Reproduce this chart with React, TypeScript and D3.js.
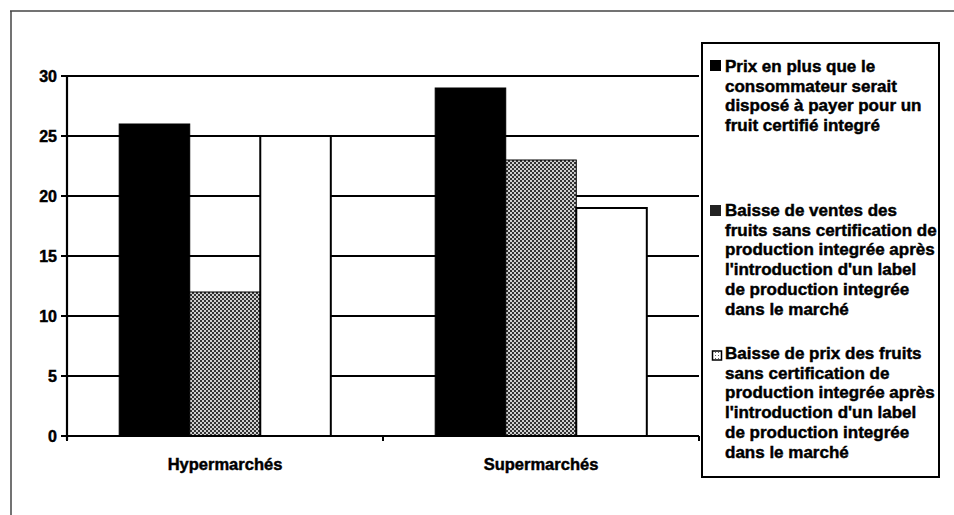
import React from "react";
import * as d3 from "d3";

// Catégories et séries
const categories = ["Hypermarchés", "Supermarchés"];
const seriesKeys = ["prix", "ventes", "baisse"];
const prixEnPlus = [26, 29];
const baisseVentes = [12, 23];
const baissePrix = [25, 19];
const yTicks = [0, 5, 10, 15, 20, 25, 30];

const legendLines = [
  ["Prix en plus que le", "consommateur serait", "disposé à payer pour un", "fruit certifié integré"],
  [
    "Baisse de ventes des",
    "fruits sans certification de",
    "production integrée après",
    "l'introduction d'un label",
    "de production integrée",
    "dans le marché",
  ],
  [
    "Baisse de prix des fruits",
    "sans certification de",
    "production integrée après",
    "l'introduction d'un label",
    "de production integrée",
    "dans le marché",
  ],
];

const font = "'Liberation Sans', Arial, Helvetica, sans-serif";
// le texte scanné est plus gras : léger contour
const heavy = { stroke: "#000", strokeWidth: 0.45 };

export default function App() {
  const width = 954, height = 515;
  const margin = { top: 76, left: 67, right: 255, bottom: 79 };
  const plotRight = width - margin.right;
  const plotBottom = height - margin.bottom;

  const y = d3.scaleLinear().domain([0, 30]).range([plotBottom, margin.top]);
  const x0 = d3.scaleBand<string>().domain(categories).range([margin.left, plotRight]).padding(0);
  const x1 = d3.scaleBand<string>().domain(seriesKeys).range([0, x0.bandwidth()]).paddingInner(0).paddingOuter(0.74);

  const values: Record<string, number[]> = { prix: prixEnPlus, ventes: baisseVentes, baisse: baissePrix };
  const fills: Record<string, string> = { prix: "#000", ventes: "url(#dither)", baisse: "#fff" };

  const bars = categories.flatMap((c, i) =>
    seriesKeys.map((k) => ({ cat: c, key: k, value: values[k][i] }))
  );

  const legendBaselines = [72, 216, 359];
  const lineH = 19.7;

  return (
    <svg width={width} height={height} style={{ position: "absolute", left: 0, top: 0, background: "#fff" }}>
      <defs>
        <pattern id="dither" width="4" height="4" patternUnits="userSpaceOnUse">
          <rect width="4" height="4" fill="#cfcfcf" />
          <rect width="2" height="2" fill="#333" />
          <rect x="2" y="2" width="2" height="2" fill="#333" />
        </pattern>
        <pattern id="dots" width="3" height="3" patternUnits="userSpaceOnUse">
          <rect width="3" height="3" fill="#fff" />
          <rect x="1" y="1" width="1" height="1" fill="#666" />
        </pattern>
      </defs>

      {/* cadre extérieur */}
      <line x1={10} x2={width} y1={11} y2={11} stroke="#444" strokeWidth={1.5} />
      <line x1={11} x2={11} y1={11} y2={height} stroke="#444" strokeWidth={1.5} />

      {/* grille */}
      {yTicks.filter((t) => t > 0).map((t) => (
        <line key={t} x1={margin.left} x2={plotRight} y1={y(t)} y2={y(t)} stroke="#000" strokeWidth={2.2} />
      ))}

      {/* barres */}
      {bars.map((b) => (
        <rect
          key={b.cat + b.key}
          x={x0(b.cat)! + x1(b.key)!}
          y={y(b.value)}
          width={x1.bandwidth()}
          height={plotBottom - y(b.value)}
          fill={fills[b.key]}
          stroke="#000"
          strokeWidth={b.key === "baisse" ? 2 : 1}
        />
      ))}

      {/* axe Y */}
      <line x1={margin.left} x2={margin.left} y1={margin.top} y2={plotBottom + 4} stroke="#000" strokeWidth={2.2} />
      {yTicks.map((t) => (
        <g key={t}>
          <line x1={margin.left - 6} x2={margin.left} y1={y(t)} y2={y(t)} stroke="#000" strokeWidth={2} />
          <text
            x={margin.left - 10}
            y={y(t)}
            dy="0.36em"
            textAnchor="end"
            fontFamily={font}
            fontWeight="bold"
            fontSize={16}
            {...heavy}
          >
            {t}
          </text>
        </g>
      ))}

      {/* axe X */}
      <line x1={margin.left} x2={plotRight} y1={plotBottom} y2={plotBottom} stroke="#000" strokeWidth={2.2} />
      {[...categories.map((c) => x0(c)!), plotRight].map((px, i) => (
        <line key={i} x1={px} x2={px} y1={plotBottom} y2={plotBottom + 5} stroke="#000" strokeWidth={2} />
      ))}
      {categories.map((c) => (
        <text
          key={c}
          x={x0(c)! + x0.bandwidth() / 2}
          y={470}
          textAnchor="middle"
          fontFamily={font}
          fontWeight="bold"
          fontSize={16.5}
          {...heavy}
        >
          {c}
        </text>
      ))}

      {/* légende */}
      <rect x={702} y={43} width={237} height={434} fill="none" stroke="#000" strokeWidth={2} />
      <rect x={710} y={60} width={11} height={11} fill="#000" />
      <rect x={710} y={205} width={11} height={11} fill="#222" />
      <rect x={712.5} y={351} width={9} height={9} fill="url(#dots)" stroke="#000" strokeWidth={1.5} />
      {legendLines.map((lines, i) => (
        <text key={i} fontFamily={font} fontWeight="bold" fontSize={17} fill="#000" {...heavy}>
          {lines.map((l, j) => (
            <tspan key={j} x={725} y={legendBaselines[i] + j * lineH}>
              {l}
            </tspan>
          ))}
        </text>
      ))}
    </svg>
  );
}
